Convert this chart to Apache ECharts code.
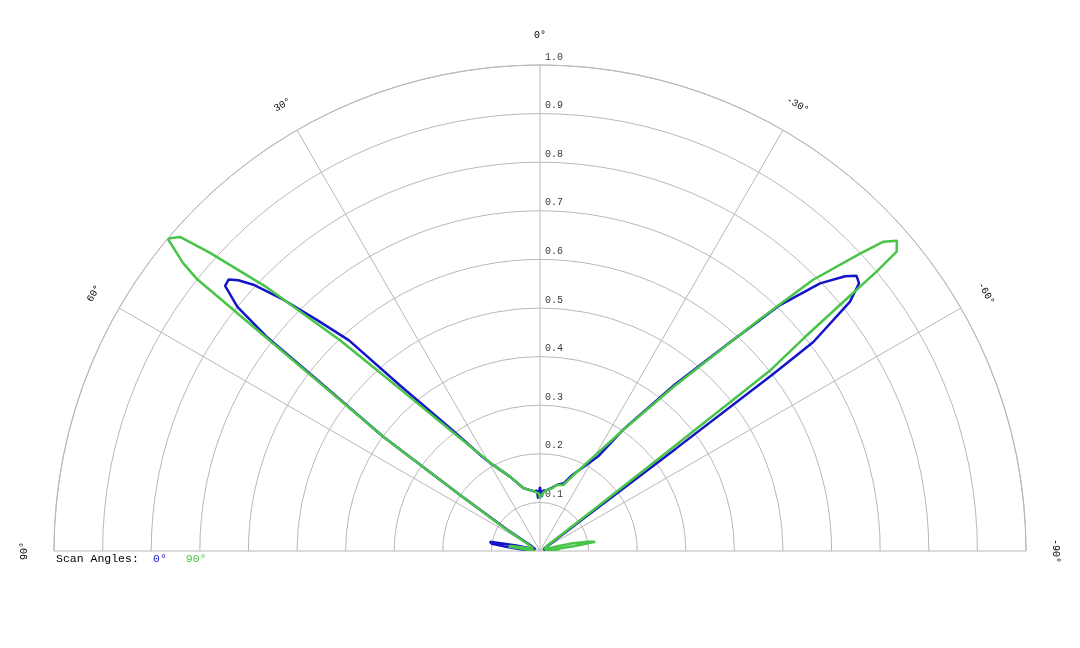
<!DOCTYPE html>
<html>
<head>
<meta charset="utf-8">
<title>Scan pattern</title>
<script src="https://cdn.jsdelivr.net/npm/echarts@6/dist/echarts.min.js"></script>
<style>
  html, body { margin: 0; padding: 0; background: #fff; }
  #main { width: 1080px; height: 648px; }
</style>
</head>
<body>
<div id="main"></div>
<script>
// scan angle 0 deg (blue) - angle in degrees, normalized amplitude
var blueAngles = [-90, -85, -75, -60, -54, -53.3, -53.0, -52.8, -52.6, -51.2, -50.0, -49.0, -48.0, -46.3,
  -44.3, -43.6, -42.3, -39.0, -34.5, -31.5, -28.8, -23, -19.4, -14.2, -10.6, -6.3, -3, -1.8, -1, 0, 1, 2,
  3, 5, 9.3, 14.9, 22, 28.5, 31.5, 36.2, 40.2, 42.2, 44.0, 45.6, 47.1, 48.1, 48.9, 49.9, 51.1, 51.9, 52.4,
  53.9, 55, 57, 60, 70, 75, 77, 79.5, 81.5, 83, 85, 88, 90];
var blueValues = [0.01, 0.01, 0.01, 0.01, 0.015, 0.1, 0.35, 0.6, 0.708, 0.818, 0.857, 0.863, 0.845, 0.797,
  0.707, 0.656, 0.58, 0.44, 0.305, 0.228, 0.205, 0.17, 0.148, 0.14, 0.132, 0.126, 0.124, 0.112, 0.118, 0.132, 0.12, 0.108,
  0.125, 0.123, 0.127, 0.134, 0.165, 0.201, 0.228, 0.314, 0.446, 0.585, 0.661, 0.739, 0.805, 0.834, 0.85, 0.847, 0.80, 0.715, 0.588,
  0.399, 0.2, 0.08, 0.02, 0.01, 0.02, 0.05, 0.105, 0.10, 0.07, 0.04, 0.01, 0.01];

// scan angle 90 deg (green)
var greenAngles = [-90, -88, -85, -83, -82, -80.5, -79, -77, -75, -72, -65, -56, -53, -52.4, -52.1, -51.9,
  -51.1, -50.6, -50.3, -50.0, -49.0, -48.0, -47.1, -45.2, -43.5, -42.5, -39.1, -34.5, -28.8, -23.1, -19.4,
  -14.2, -10.6, -6.3, -3, -1, 0, 1, 3, 5, 9.3, 14.9, 22, 28.5, 31.8, 36.6, 40.8, 42.5, 43.5, 46, 47.9, 48.9,
  50, 51.1, 51.6, 52.5, 53.9, 55, 57, 60, 70, 76, 78, 80, 82, 84, 87, 90];
var greenValues = [0.01, 0.015, 0.04, 0.03, 0.07, 0.115, 0.1, 0.07, 0.04, 0.015, 0.01, 0.01, 0.02, 0.15, 0.32, 0.6,
  0.697, 0.808, 0.90, 0.958, 0.973, 0.951, 0.899, 0.792, 0.658, 0.589, 0.435, 0.302, 0.214, 0.166, 0.144,
  0.14, 0.131, 0.126, 0.12, 0.113, 0.108, 0.118, 0.12, 0.123, 0.127, 0.134, 0.165, 0.201, 0.234, 0.31, 0.44, 0.528, 0.598, 0.78, 0.915, 0.983,
  1.0, 0.944, 0.90, 0.60, 0.399, 0.2, 0.09, 0.03, 0.015, 0.02, 0.035, 0.06, 0.065, 0.03, 0.01, 0.01];

var radiusTicks = [0.1, 0.2, 0.3, 0.4, 0.5, 0.6, 0.7, 0.8, 0.9, 1.0];
var angleTicks = [-90, -60, -30, 0, 30, 60, 90];
var seriesNames = ['0°', '90°'];
var seriesColors = ['#1414c8', '#48c448'];

function zip(angles, values) {
  var out = [];
  for (var i = 0; i < angles.length; i++) {
    out.push([values[i], angles[i]]);
  }
  return out;
}

var FONT = '"Liberation Mono", "DejaVu Sans Mono", monospace';

var radiusLabelData = radiusTicks.map(function (r) {
  return { value: [r, 0], label: { formatter: r.toFixed(1) } };
});

var myChart = echarts.init(document.getElementById('main'));

var option = {
  animation: false,
  backgroundColor: '#ffffff',
  title: {
    text: 'Scan Angles:',
    left: 56,
    top: 553,
    padding: 0,
    textStyle: { fontFamily: FONT, fontSize: 11.5, fontWeight: 'normal', color: '#000' }
  },
  legend: {
    left: 148,
    top: 553,
    padding: 0,
    itemWidth: 0,
    itemHeight: 0,
    itemGap: 14,
    selectedMode: false,
    data: [
      { name: seriesNames[0], icon: 'rect', textStyle: { color: seriesColors[0] } },
      { name: seriesNames[1], icon: 'rect', textStyle: { color: seriesColors[1] } }
    ],
    textStyle: { fontFamily: FONT, fontSize: 11.5 }
  },
  polar: {
    center: [540, 551],
    radius: 486
  },
  angleAxis: {
    type: 'value',
    min: -90,
    max: 90,
    interval: 30,
    startAngle: 0,
    endAngle: 180,
    clockwise: false,
    axisLine: { show: true, lineStyle: { color: '#b8b8b8', width: 1 } },
    axisTick: { show: false },
    axisLabel: { show: false },
    splitLine: { show: true, lineStyle: { color: '#b8b8b8', width: 1 } }
  },
  radiusAxis: {
    type: 'value',
    min: 0,
    max: 1,
    interval: 0.1,
    axisLine: { show: false },
    axisTick: { show: false },
    axisLabel: { show: false },
    splitLine: { show: true, lineStyle: { color: '#b8b8b8', width: 1 } }
  },
  series: [
    {
      name: seriesNames[0],
      type: 'line',
      coordinateSystem: 'polar',
      showSymbol: false,
      symbol: 'none',
      lineStyle: { color: seriesColors[0], width: 2.5 },
      itemStyle: { color: seriesColors[0] },
      data: zip(blueAngles, blueValues),
      z: 3
    },
    {
      name: seriesNames[1],
      type: 'line',
      coordinateSystem: 'polar',
      showSymbol: false,
      symbol: 'none',
      lineStyle: { color: seriesColors[1], width: 2.5 },
      itemStyle: { color: seriesColors[1] },
      data: zip(greenAngles, greenValues),
      z: 4
    },
    {
      // radius tick labels along the 0 degree spoke
      name: 'radiusLabels',
      type: 'scatter',
      coordinateSystem: 'polar',
      symbolSize: 0,
      silent: true,
      label: {
        show: true,
        position: [5, -8],
        align: 'left',
        verticalAlign: 'middle',
        fontFamily: FONT,
        fontSize: 10,
        color: '#000'
      },
      data: radiusLabelData
    }
  ]
};

myChart.setOption(option);

// angle tick labels, placed a bit outside the outer ring and turned along it
var centre = myChart.convertToPixel({ polarIndex: 0 }, [0, 0]);
var angleLabels = angleTicks.map(function (a) {
  var p = myChart.convertToPixel({ polarIndex: 0 }, [1, a]);
  var x = centre[0] + (p[0] - centre[0]) * 1.06;
  var y = centre[1] + (p[1] - centre[1]) * 1.06;
  return {
    type: 'text',
    x: x,
    y: y,
    rotation: a * Math.PI / 180,
    silent: true,
    style: {
      text: a + '°',
      x: 0,
      y: 0,
      align: 'center',
      verticalAlign: 'middle',
      fontFamily: FONT,
      fontSize: 10,
      fill: '#000'
    }
  };
});
myChart.setOption({ graphic: angleLabels });
</script>
</body>
</html>
